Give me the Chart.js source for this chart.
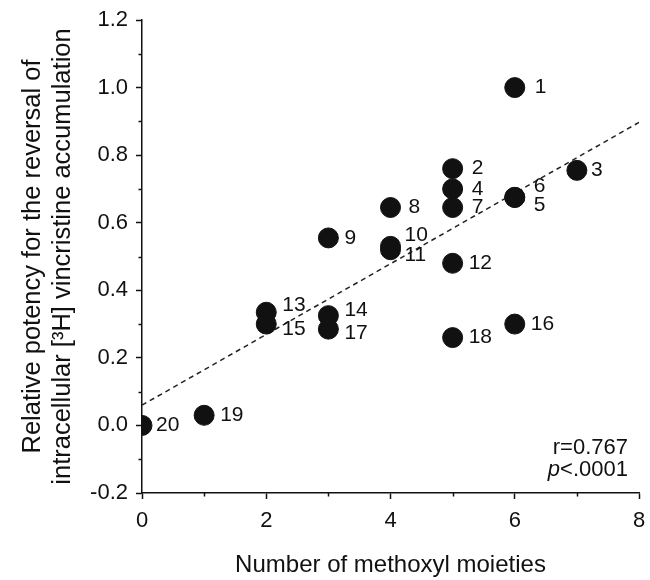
<!DOCTYPE html>
<html>
<head>
<meta charset="utf-8">
<script src="https://cdn.jsdelivr.net/npm/chart.js@4.4.1/dist/chart.umd.min.js"></script>
<style>
  html, body { margin: 0; padding: 0; background: #fff; }
  #wrap { width: 650px; height: 580px; }
</style>
</head>
<body>
<div id="wrap"><canvas id="chart"></canvas></div>
<script>
// Relative potency vs number of methoxyl moieties (compounds 1-20)

const compoundIds     = ['1','2','3','4','5','6','7','8','9','10','11','12','13','14','15','16','17','18','19','20'];
const methoxylCounts  = [6, 5, 7, 5, 6, 6, 5, 4, 3, 4, 4, 5, 2, 3, 2, 6, 3, 5, 1, 0];
const relativePotency = [1.0, 0.76, 0.755, 0.70, 0.675, 0.675, 0.645, 0.645, 0.555, 0.53, 0.52, 0.48, 0.335, 0.325, 0.30, 0.30, 0.285, 0.26, 0.03, 0.0];

// regression line end points
const fitX = [0, 8];
const fitY = [0.06, 0.897];

const xMajorTicks = [0, 2, 4, 6, 8];
const xTickLabels = ['0', '2', '4', '6', '8'];
const yMajorTicks = [-0.2, 0, 0.2, 0.4, 0.6, 0.8, 1.0, 1.2];
const yTickLabels = ['-0.2', '0.0', '0.2', '0.4', '0.6', '0.8', '1.0', '1.2'];

const statLines = ['r=0.767', 'p<.0001'];

const FONT = "'Liberation Sans', Arial, Helvetica, sans-serif";
const INK = '#111';

// label nudges [dx, dy] for crowded points
const labelNudge = {
    '1': [4, 0], '2': [3, 0], '4': [3, 0], '7': [3, 0], '8': [2, 0],
    '6': [3, -11], '5': [3, 8], '3': [-2, 0],
    '10': [-2, -11], '11': [-2, 5],
    '13': [0, -7], '15': [0, 5], '14': [0, -5], '17': [0, 4],
    '20': [-2, 0]
};

// ── minor ticks ──────────────────────────────────────────
const minorTicks = {
    id: 'minorTicks',
    afterDraw(chart) {
        const { ctx, chartArea, scales } = chart;
        ctx.save();
        ctx.strokeStyle = INK;
        ctx.lineWidth = 1.5;
        ctx.beginPath();
        for (let i = 0; i < yMajorTicks.length - 1; i++) {
            const py = Math.round(scales.y.getPixelForValue((yMajorTicks[i] + yMajorTicks[i + 1]) / 2)) + 0.5;
            ctx.moveTo(chartArea.left - 3.5, py);
            ctx.lineTo(chartArea.left, py);
        }
        for (let i = 0; i < xMajorTicks.length - 1; i++) {
            const px = Math.round(scales.x.getPixelForValue((xMajorTicks[i] + xMajorTicks[i + 1]) / 2)) + 0.5;
            ctx.moveTo(px, chartArea.bottom);
            ctx.lineTo(px, chartArea.bottom + 3.5);
        }
        ctx.stroke();
        ctx.restore();
    }
};

// ── point labels ─────────────────────────────────────────
const pointLabels = {
    id: 'pointLabels',
    afterDatasetsDraw(chart) {
        const { ctx } = chart;
        const meta = chart.getDatasetMeta(1);
        ctx.save();
        ctx.font = '21px ' + FONT;
        ctx.fillStyle = INK;
        ctx.textAlign = 'left';
        ctx.textBaseline = 'middle';
        meta.data.forEach((pt, i) => {
            const id = compoundIds[i];
            const n = labelNudge[id] || [0, 0];
            ctx.fillText(id, pt.x + 16 + n[0], pt.y + n[1]);
        });
        ctx.restore();
    }
};

// ── r / p text ───────────────────────────────────────────
const statText = {
    id: 'statText',
    afterDraw(chart) {
        const { ctx, chartArea } = chart;
        const right = chartArea.right - 11;
        ctx.save();
        ctx.fillStyle = INK;
        ctx.textBaseline = 'middle';
        ctx.textAlign = 'right';
        ctx.font = '22px ' + FONT;
        ctx.fillText(statLines[0], right, chartArea.bottom - 45);
        // italic p
        const rest = statLines[1].slice(1);
        const restW = ctx.measureText(rest).width;
        ctx.fillText(rest, right, chartArea.bottom - 23);
        ctx.font = 'italic 22px ' + FONT;
        ctx.fillText(statLines[1][0], right - restW, chartArea.bottom - 23);
        ctx.restore();
    }
};

const ctx = document.getElementById('chart').getContext('2d');
new Chart(ctx, {
    type: 'scatter',
    data: {
        datasets: [
            {
                type: 'line',
                data: fitX.map((x, i) => ({ x, y: fitY[i] })),
                borderColor: '#222',
                borderWidth: 1.5,
                borderDash: [5, 4],
                pointRadius: 0,
                fill: false,
                order: 2
            },
            {
                data: methoxylCounts.map((x, i) => ({ x, y: relativePotency[i] })),
                backgroundColor: INK,
                borderColor: INK,
                pointRadius: 10,
                pointHoverRadius: 10,
                order: 1
            }
        ]
    },
    options: {
        responsive: true, maintainAspectRatio: false,
        animation: false,
        layout: { padding: { top: 20, right: 7, left: 0, bottom: 0 } },
        plugins: { legend: { display: false }, tooltip: { enabled: false } },
        scales: {
            x: {
                type: 'linear', min: 0, max: 8,
                afterBuildTicks: s => { s.ticks = xMajorTicks.map(v => ({ value: v })); },
                afterFit: s => { s.height = 87; s.paddingLeft = 0; s.paddingRight = 0; },
                grid: { drawOnChartArea: false, drawTicks: true, tickLength: 6, tickColor: INK, tickWidth: 1.5 },
                border: { color: INK, width: 1.5 },
                ticks: {
                    color: INK, padding: 9, maxRotation: 0, autoSkip: false,
                    font: { family: FONT, size: 22 },
                    callback: v => xTickLabels[xMajorTicks.indexOf(v)]
                },
                title: {
                    display: true, text: 'Number of methoxyl moieties', color: INK,
                    font: { family: FONT, size: 24 }, padding: { top: 0, bottom: 0 }
                }
            },
            y: {
                type: 'linear', min: -0.2, max: 1.2,
                afterBuildTicks: s => { s.ticks = yMajorTicks.map(v => ({ value: v })); },
                afterFit: s => { s.width = 142; s.paddingTop = 0; s.paddingBottom = 0; },
                grid: { drawOnChartArea: false, drawTicks: true, tickLength: 6, tickColor: INK, tickWidth: 1.5 },
                border: { color: INK, width: 1.5 },
                ticks: {
                    color: INK, padding: 8, autoSkip: false,
                    font: { family: FONT, size: 22 },
                    callback: v => {
                        const i = yMajorTicks.findIndex(t => Math.abs(t - v) < 1e-6);
                        return i >= 0 ? yTickLabels[i] : '';
                    }
                },
                title: {
                    display: true,
                    text: ['Relative potency for the reversal of', 'intracellular [³H] vincristine accumulation'],
                    color: INK,
                    font: { family: FONT, size: 25.5, lineHeight: 1.18 },
                    padding: { top: 18, bottom: 0 }
                }
            }
        }
    },
    plugins: [minorTicks, pointLabels, statText]
});
</script>
</body>
</html>
